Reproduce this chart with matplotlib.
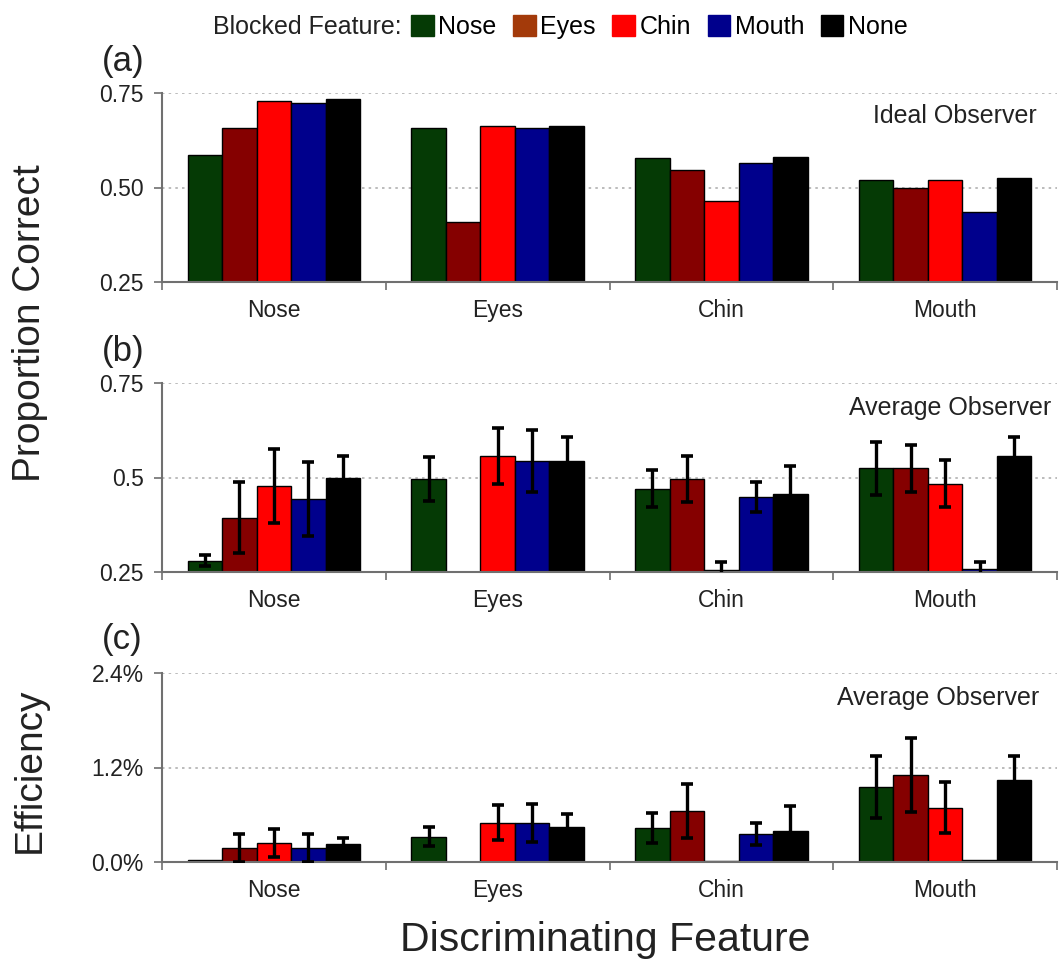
import matplotlib.pyplot as plt
import numpy as np
from matplotlib.patches import Patch

plt.rcParams['font.family'] = ['Liberation Sans', 'DejaVu Sans']

# discriminating features (x groups) and blocked features (bars in a group)
features = ["Nose", "Eyes", "Chin", "Mouth"]
blocked = ["Nose", "Eyes", "Chin", "Mouth", "None"]
bar_colors = ["#053a05", "#850000", "#ff0000", "#00008c", "#000000"]
legend_colors = ["#053a05", "#a33a0a", "#ff0000", "#00008c", "#000000"]

# (a) ideal observer, proportion correct; rows = blocked feature
ideal = np.array([
    [0.586, 0.657, 0.577, 0.520],
    [0.657, 0.410, 0.545, 0.500],
    [0.729, 0.663, 0.465, 0.520],
    [0.724, 0.657, 0.566, 0.434],
    [0.733, 0.663, 0.580, 0.526],
])

# (b) average observer, proportion correct and error
avg_pc = np.array([
    [0.280, 0.495, 0.470, 0.524],
    [0.394, np.nan, 0.495, 0.524],
    [0.478, 0.556, 0.255, 0.484],
    [0.443, 0.543, 0.448, 0.258],
    [0.500, 0.543, 0.457, 0.556],
])
avg_pc_err = np.array([
    [0.014, 0.058, 0.049, 0.069],
    [0.094, np.nan, 0.061, 0.063],
    [0.098, 0.074, 0.022, 0.063],
    [0.098, 0.082, 0.040, 0.018],
    [0.057, 0.063, 0.074, 0.050],
])

# (c) average observer, efficiency (%) and error
eff = np.array([
    [0.02, 0.32, 0.43, 0.95],
    [0.18, np.nan, 0.65, 1.10],
    [0.24, 0.50, 0.01, 0.69],
    [0.18, 0.50, 0.36, 0.02],
    [0.23, 0.44, 0.40, 1.04],
])
eff_err = np.array([
    [np.nan, 0.12, 0.19, 0.39],
    [0.18, np.nan, 0.34, 0.47],
    [0.18, 0.22, np.nan, 0.32],
    [0.18, 0.24, 0.14, np.nan],
    [0.08, 0.17, 0.31, 0.31],
])

W = 0.154
GRID = "#b0b0b0"
SPINE = "#707070"


def draw_panel(ax, vals, errs, ylim, yticks, yticklabels, note, note_x, note_y):
    centers = np.arange(len(features)) + 0.5
    for j in range(len(blocked)):
        x = centers + (j - 2) * W
        ax.bar(x, vals[j], width=W, color=bar_colors[j], edgecolor="black",
               linewidth=1.0, zorder=2)
        if errs is not None:
            ax.errorbar(x, vals[j], yerr=errs[j], fmt="none", ecolor="black",
                        elinewidth=2.4, capsize=4.5, capthick=2.6, zorder=3)
    ax.set_xlim(0, len(features))
    ax.set_ylim(*ylim)
    ax.set_yticks(yticks)
    ax.set_yticklabels(yticklabels, fontsize=16.5, color="#222222")
    # boundaries get the tick marks, centers get the labels
    ax.set_xticks(np.arange(len(features) + 1))
    ax.set_xticklabels([])
    ax.set_xticks(centers, minor=True)
    ax.set_xticklabels(features, minor=True, fontsize=16.5, color="#222222")
    ax.tick_params(axis="x", which="minor", length=0, pad=12)
    ax.tick_params(axis="x", which="major", length=6, width=1.2, color=SPINE,
                   direction="out")
    ax.tick_params(axis="y", length=6, width=1.2, color=SPINE, pad=7)
    for yv in yticks[1:]:
        ax.axhline(yv, color=GRID, linestyle=(0, (1.5, 2.5)), linewidth=1.2,
                   zorder=0)
    for s in ["top", "right"]:
        ax.spines[s].set_visible(False)
    for s in ["left", "bottom"]:
        ax.spines[s].set_color(SPINE)
        ax.spines[s].set_linewidth(1.5)
    ax.text(note_x, note_y, note, transform=ax.transAxes, ha="right",
            va="center", fontsize=18, color="#222222")


fig = plt.figure(figsize=(10.61, 9.69), dpi=100)
left, width, height = 162 / 1061, 895 / 1061, 189 / 969
ax_a = fig.add_axes([left, 1 - 282 / 969, width, height])
ax_b = fig.add_axes([left, 1 - 572 / 969, width, height])
ax_c = fig.add_axes([left, 1 - 862 / 969, width, height])

draw_panel(ax_a, ideal, None, (0.25, 0.75), [0.25, 0.50, 0.75],
           ["0.25", "0.50", "0.75"], "Ideal Observer", 0.977, 0.88)
draw_panel(ax_b, avg_pc, avg_pc_err, (0.25, 0.75), [0.25, 0.5, 0.75],
           ["0.25", "0.5", "0.75"], "Average Observer", 0.994, 0.87)
draw_panel(ax_c, eff, eff_err, (0.0, 2.4), [0.0, 1.2, 2.4],
           ["0.0%", "1.2%", "2.4%"], "Average Observer", 0.98, 0.87)

# panel letters
for lab, yc in [("(a)", 62), ("(b)", 352), ("(c)", 640)]:
    fig.text(102 / 1061, 1 - yc / 969, lab, fontsize=25, ha="left",
             va="center", color="#222222")

fig.text(30 / 1061, 1 - 323 / 969, "Proportion Correct", rotation=90,
         fontsize=28, ha="center", va="center", color="#222222")
fig.text(30 / 1061, 1 - 770 / 969, "Efficiency", rotation=90,
         fontsize=28, ha="center", va="center", color="#222222")
fig.text(605 / 1061, 1 - 940 / 969, "Discriminating Feature",
         fontsize=29.5, ha="center", va="center", color="#222222")

# legend row across the top
fig.text(213 / 1061, 1 - 27 / 969, "Blocked Feature:", fontsize=18,
         ha="left", va="center", color="#222222")
handles = [Patch(facecolor=c, edgecolor=c, label=b)
           for c, b in zip(legend_colors, blocked)]
fig.legend(handles=handles, loc="center left",
           bbox_to_anchor=(411 / 1061, 1 - 27 / 969), ncol=5, frameon=False,
           fontsize=18, handlelength=0.9, handleheight=0.9,
           handletextpad=0.2, columnspacing=0.65, borderpad=0,
           borderaxespad=0)

fig.savefig("out.png", dpi=100)
